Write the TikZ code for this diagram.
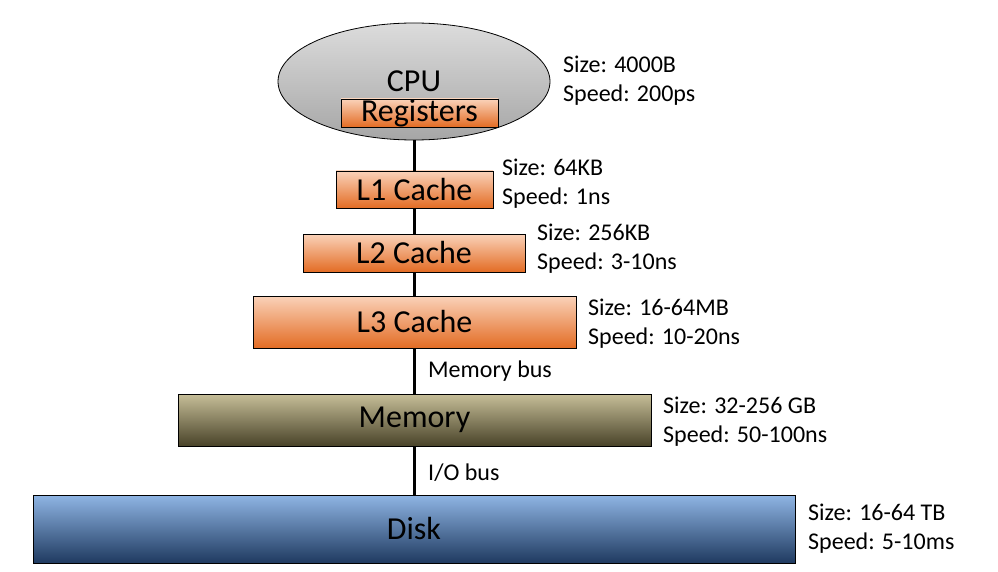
\documentclass[tikz,border=0pt]{standalone}
\usepackage{fontspec}
\setmainfont{Carlito}
\usepackage{xcolor}
\usepackage{tikz}
\usetikzlibrary{shapes.geometric}
\definecolor{cputop}{HTML}{DCDCDC}
\definecolor{cpubot}{HTML}{A6A6A6}
\definecolor{cachetop}{HTML}{FAD2B9}
\definecolor{cachebot}{HTML}{E36C24}
\definecolor{memtop}{HTML}{C6BE98}
\definecolor{membot}{HTML}{494329}
\definecolor{disktop}{HTML}{8FB5E4}
\definecolor{diskbot}{HTML}{1F3A60}

\begin{document}
\begin{tikzpicture}[
    x=1pt, y=-1pt,
    level/.style={draw=black, line width=0.8pt, top color=#1top,
        bottom color=#1bot, inner sep=0pt, outer sep=0pt,
        font=\fontsize{32}{34}\selectfont},
    info/.style={anchor=west, align=left, inner sep=0pt,
        font=\fontsize{24}{29}\selectfont},
    bus/.style={line width=3pt, draw=black},
  ]
  \useasboundingbox (0,0) rectangle (998,572);
  \node[level=cpu, ellipse, text depth=0pt, minimum width=272pt, minimum height=117pt] (cpu) at (414,81.5) {CPU};
  \node[level=cache, minimum width=157pt, minimum height=28pt] (reg) at (419.5,113) {Registers};
  \node[info] (cpuinfo) at (563,80.5) {Size: 4000B\\Speed: 200ps};
  \node[level=cache, minimum width=157pt, minimum height=37pt] (l1) at (414.5,189.5) {L1 Cache};
  \node[info] (l1info) at (502,183.5) {Size: 64KB\\Speed: 1ns};
  \node[level=cache, minimum width=222pt, minimum height=38pt] (l2) at (414,253) {L2 Cache};
  \node[info] (l2info) at (537,249) {Size: 256KB\\Speed: 3-10ns};
  \node[level=cache, minimum width=323pt, minimum height=52pt] (l3) at (414.5,322) {L3 Cache};
  \node[info] (l3info) at (588,324) {Size: 16-64MB\\Speed: 10-20ns};
  \node[level=mem, minimum width=473pt, minimum height=52pt] (mem) at (414.5,420) {Memory};
  \node[info] (meminfo) at (663,422) {Size: 32-256 GB\\Speed: 50-100ns};
  \node[level=disk, minimum width=762pt, minimum height=68pt] (disk) at (414,529) {Disk};
  \node[info] (diskinfo) at (808,529) {Size: 16-64 TB\\Speed: 5-10ms};
  % buses
  \draw[bus] (cpu.south) -- (cpu.south |- l1.north);
  \draw[bus] (cpu.south |- l1.south) -- (cpu.south |- l2.north);
  \draw[bus] (cpu.south |- l2.south) -- (cpu.south |- l3.north);
  \draw[bus] (cpu.south |- l3.south) -- (cpu.south |- mem.north);
  \draw[bus] (cpu.south |- mem.south) -- (cpu.south |- disk.north);
  \node[info] (membus) at (428,371) {Memory bus};
  \node[info] (iobus) at (428,473) {I/O bus};
\end{tikzpicture}
\end{document}
